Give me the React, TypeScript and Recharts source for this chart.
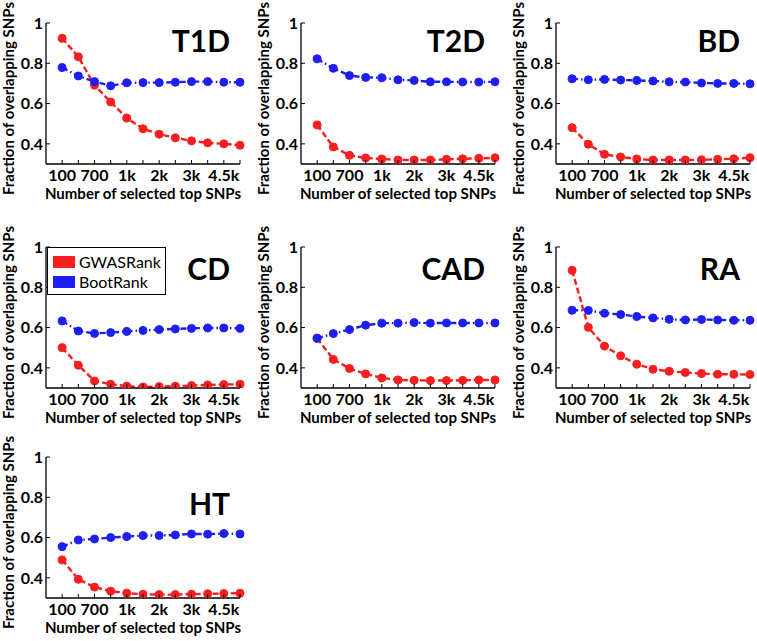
import React from 'react';
import { LineChart, Line, XAxis, YAxis, Legend } from 'recharts';

// x positions are the 12 sampled sizes; only every other one gets a label
const steps = [0, 1, 2, 3, 4, 5, 6, 7, 8, 9, 10, 11];
const labelSteps = [0, 2, 4, 6, 8, 10];
const stepLabels = ['100', '700', '1k', '2k', '3k', '4.5k'];
const yTicks = [0.4, 0.6, 0.8, 1];
const seriesNames = ['GWASRank', 'BootRank'];

const t1dGwas = [0.924, 0.832, 0.691, 0.608, 0.528, 0.475, 0.448, 0.43, 0.415, 0.405, 0.4, 0.393];
const t1dBoot = [0.779, 0.737, 0.709, 0.688, 0.703, 0.704, 0.704, 0.706, 0.709, 0.709, 0.706, 0.706];
const t2dGwas = [0.494, 0.385, 0.343, 0.33, 0.325, 0.32, 0.32, 0.32, 0.323, 0.326, 0.328, 0.331];
const t2dBoot = [0.822, 0.775, 0.739, 0.73, 0.728, 0.718, 0.715, 0.708, 0.708, 0.707, 0.707, 0.708];
const bdGwas = [0.48, 0.398, 0.348, 0.335, 0.325, 0.32, 0.32, 0.32, 0.321, 0.323, 0.326, 0.331];
const bdBoot = [0.723, 0.718, 0.72, 0.717, 0.715, 0.712, 0.708, 0.707, 0.702, 0.7, 0.7, 0.698];
const cdGwas = [0.5, 0.413, 0.335, 0.319, 0.309, 0.305, 0.307, 0.309, 0.312, 0.315, 0.317, 0.319];
const cdBoot = [0.633, 0.583, 0.571, 0.575, 0.581, 0.586, 0.59, 0.593, 0.596, 0.598, 0.598, 0.596];
const cadGwas = [0.547, 0.442, 0.397, 0.37, 0.35, 0.34, 0.338, 0.337, 0.337, 0.338, 0.34, 0.34];
const cadBoot = [0.547, 0.57, 0.59, 0.612, 0.622, 0.622, 0.625, 0.622, 0.623, 0.623, 0.623, 0.623];
const raGwas = [0.884, 0.601, 0.508, 0.46, 0.418, 0.393, 0.383, 0.377, 0.372, 0.368, 0.368, 0.367];
const raBoot = [0.686, 0.685, 0.671, 0.665, 0.655, 0.648, 0.641, 0.638, 0.64, 0.638, 0.636, 0.636];
const htGwas = [0.489, 0.393, 0.354, 0.334, 0.324, 0.319, 0.317, 0.317, 0.319, 0.321, 0.322, 0.324];
const htBoot = [0.555, 0.588, 0.593, 0.6, 0.605, 0.61, 0.61, 0.613, 0.618, 0.617, 0.62, 0.618];

const RED = '#f61e1e';
const BLUE = '#1e1ef2';
const FONT = 'Lato, "Open Sans", sans-serif';

// plot box size and the space reserved around it
const PW = 194;
const PH = 141;
const AXL = 46;
const AXB = 50;
const MT = 26;
const MR = 6;
const TM = 3;

const panels = [
  { title: 'T1D', gwas: t1dGwas, boot: t1dBoot, left: 46, top: 23, titleDy: 27 },
  { title: 'T2D', gwas: t2dGwas, boot: t2dBoot, left: 301, top: 23, titleDy: 27 },
  { title: 'BD', gwas: bdGwas, boot: bdBoot, left: 556, top: 23, titleDy: 27 },
  { title: 'CD', gwas: cdGwas, boot: cdBoot, left: 46, top: 247, titleDy: 31, legend: true },
  { title: 'CAD', gwas: cadGwas, boot: cadBoot, left: 301, top: 247, titleDy: 31 },
  { title: 'RA', gwas: raGwas, boot: raBoot, left: 556, top: 247, titleDy: 31 },
  { title: 'HT', gwas: htGwas, boot: htBoot, left: 46, top: 457, titleDy: 56 },
];

const BottomTick = (props: any) => {
  const { x, y, payload } = props;
  const i = labelSteps.indexOf(payload.value);
  const y0 = y - 6;
  return (
    <g>
      <line x1={x} x2={x} y1={y0} y2={y0 - 4} stroke="#000" strokeWidth={1} />
      {i >= 0 && (
        <text x={x} y={y} dy="0.71em" textAnchor="middle" fontFamily={FONT} fontWeight={700} fontSize={16} fill="#000">
          {stepLabels[i]}
        </text>
      )}
    </g>
  );
};

const TopTick = (props: any) => (
  <line x1={props.x} x2={props.x} y1={props.y} y2={props.y + 4} stroke="#000" strokeWidth={1} />
);

const LeftTick = (props: any) => {
  const { x, y, payload } = props;
  const x0 = x + TM;
  return (
    <g>
      <line x1={x0} x2={x0 + 4} y1={y} y2={y} stroke="#000" strokeWidth={1} />
      <text x={x} y={y} dy="0.36em" textAnchor="end" fontFamily={FONT} fontWeight={700} fontSize={16} fill="#000">
        {payload.value === 1 ? '1' : payload.value.toFixed(1)}
      </text>
    </g>
  );
};

const RightTick = (props: any) => (
  <line x1={props.x} x2={props.x - 4} y1={props.y} y2={props.y} stroke="#000" strokeWidth={1} />
);

const LegendBox = (props: any) => {
  const items = [...(props.payload || [])].sort(
    (a: any, b: any) => seriesNames.indexOf(a.value) - seriesNames.indexOf(b.value)
  );
  return (
    <div
      style={{
        width: 119,
        height: 48,
        boxSizing: 'border-box',
        border: '1px solid #000',
        background: '#fff',
        padding: '4px 0 0 5px',
        fontFamily: FONT,
        fontSize: 16,
      }}
    >
      {items.map((p: any) => (
        <div key={p.value} style={{ display: 'flex', alignItems: 'center', height: 20 }}>
          <span style={{ display: 'inline-block', width: 22, height: 12, background: p.color, marginRight: 4 }} />
          <span style={{ lineHeight: '20px', color: '#000' }}>{p.value}</span>
        </div>
      ))}
    </div>
  );
};

const Panel = ({ p }: { p: any }) => {
  const data = steps.map((s, i) => ({ step: s, gwas: p.gwas[i], boot: p.boot[i] }));
  return (
    <div style={{ position: 'absolute', left: p.left - AXL, top: p.top - MT }}>
      <LineChart
        width={AXL + PW + MR}
        height={MT + PH + AXB}
        data={data}
        margin={{ top: MT, right: MR, bottom: 0, left: 0 }}
      >
        <XAxis
          dataKey="step"
          type="number"
          domain={[-1, 11]}
          ticks={steps}
          interval={0}
          height={AXB}
          tickSize={0}
          tickMargin={6}
          tick={BottomTick}
          axisLine={{ stroke: '#000', strokeWidth: 1.3 }}
          label={(lp: any) => {
            const vb = lp.viewBox;
            return (
              <text
                x={vb.x + vb.width / 2}
                y={vb.y + 30}
                dy="0.36em"
                textAnchor="middle"
                fontFamily={FONT}
                fontWeight={700}
                fontSize={15}
                fill="#000"
              >
                Number of selected top SNPs
              </text>
            );
          }}
        />
        <XAxis
          xAxisId="top"
          orientation="top"
          dataKey="step"
          type="number"
          domain={[-1, 11]}
          ticks={steps}
          interval={0}
          height={0}
          tickSize={0}
          tickMargin={0}
          tick={TopTick}
          axisLine={{ stroke: '#000', strokeWidth: 1.3 }}
        />
        <YAxis
          type="number"
          domain={[0.3, 1]}
          allowDataOverflow
          ticks={yTicks}
          interval={0}
          width={AXL}
          tickSize={0}
          tickMargin={TM}
          tick={LeftTick}
          axisLine={{ stroke: '#000', strokeWidth: 1.3 }}
          label={(lp: any) => {
            const vb = lp.viewBox;
            const cx = vb.x + vb.width - 37;
            const cy = vb.y + vb.height / 2 + 5;
            return (
              <text
                x={cx}
                y={cy}
                dy="0.36em"
                textAnchor="middle"
                transform={`rotate(-90 ${cx} ${cy})`}
                fontFamily={FONT}
                fontWeight={700}
                fontSize={15}
                fill="#000"
              >
                Fraction of overlapping SNPs
              </text>
            );
          }}
        />
        <YAxis
          yAxisId="right"
          orientation="right"
          type="number"
          domain={[0.3, 1]}
          ticks={yTicks}
          interval={0}
          width={0}
          tickSize={0}
          tickMargin={0}
          tick={RightTick}
          axisLine={{ stroke: '#000', strokeWidth: 1.3 }}
        />
        {p.legend && (
          <Legend
            layout="vertical"
            align="center"
            verticalAlign="middle"
            content={LegendBox}
            wrapperStyle={{ left: AXL + 1, top: MT, width: 119, height: 48 }}
          />
        )}
        <Line
          name="GWASRank"
          dataKey="gwas"
          type="linear"
          stroke={RED}
          strokeWidth={2.4}
          strokeDasharray="6 3"
          dot={{ r: 4, fill: RED, stroke: RED, strokeWidth: 1, strokeDasharray: 'none' }}
          legendType="square"
          isAnimationActive={false}
        />
        <Line
          name="BootRank"
          dataKey="boot"
          type="linear"
          stroke={BLUE}
          strokeWidth={2.4}
          strokeDasharray="6 3 1.5 3"
          dot={{ r: 4, fill: BLUE, stroke: BLUE, strokeWidth: 1, strokeDasharray: 'none' }}
          legendType="square"
          isAnimationActive={false}
        />
      </LineChart>
      <div
        style={{
          position: 'absolute',
          left: 0,
          top: 0,
          width: AXL + PW - 10,
          textAlign: 'right',
          paddingTop: MT + p.titleDy - 25,
          fontFamily: FONT,
          fontWeight: 700,
          fontSize: 30,
          lineHeight: '30px',
          color: '#000',
          pointerEvents: 'none',
        }}
      >
        {p.title}
      </div>
    </div>
  );
};

export default function App() {
  return (
    <div style={{ position: 'absolute', left: 0, top: 0, width: 757, height: 641, background: '#fff' }}>
      {panels.map((p) => (
        <Panel key={p.title} p={p} />
      ))}
    </div>
  );
}
